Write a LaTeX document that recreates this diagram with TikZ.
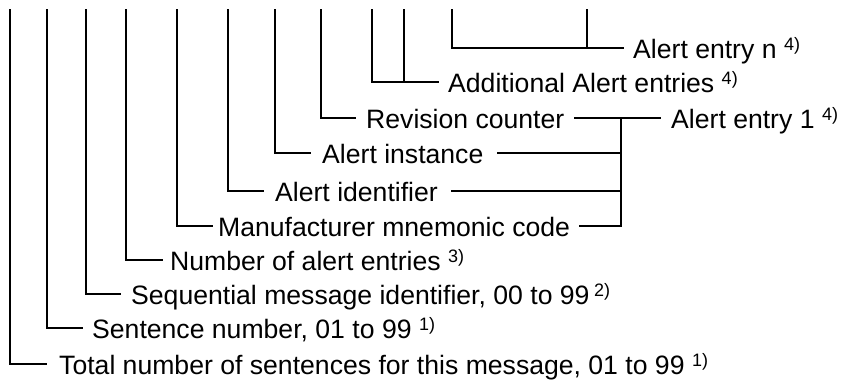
\documentclass[tikz,border=0pt]{standalone}
\usepackage{fontspec}
\setmainfont{Liberation Sans}
\newcommand\supnote[1]{\raisebox{8pt}{\fontsize{18}{18}\selectfont #1}}
\begin{document}
\begin{tikzpicture}[x=1pt,y=-1pt,
  conn/.style={line width=1.7pt, line cap=rect},
  lbl/.style={anchor=base west, inner sep=0pt, font=\fontsize{26.6}{30}\selectfont}]
\useasboundingbox (0,0) rectangle (842,383);
% vertical tops
\coordinate (v1) at (10,10);
\coordinate (v2) at (47,10);
\coordinate (v3) at (86,10);
\coordinate (v4) at (126,10);
\coordinate (v5) at (177,10);
\coordinate (v6) at (228,10);
\coordinate (v7) at (275,10);
\coordinate (v8) at (321,10);
\coordinate (v9) at (372,10);
\coordinate (v10) at (404,10);
\coordinate (v11) at (452,10);
\coordinate (v12) at (587,10);
\coordinate (jtop) at (621,118);
% labels
\node[lbl] (total) at (59,374) {Total number of sentences for this message, 01 to 99 \supnote{1)}};
\node[lbl] (sentno) at (92,338) {Sentence number, 01 to 99 \supnote{1)}};
\node[lbl] (seqid) at (131,304) {Sequential message identifier, 00 to 99\,\supnote{2)}};
\node[lbl] (numalert) at (170,270) {Number of alert entries \supnote{3)}};
\node[lbl] (mfr) at (218,236) {Manufacturer mnemonic code};
\node[lbl] (alertid) at (275,201) {Alert identifier};
\node[lbl] (inst) at (322,163) {Alert instance};
\node[lbl] (rev) at (366,128) {Revision counter};
\node[lbl] (addl) at (448,92) {Additional Alert entries \supnote{4)}};
\node[lbl] (entryn) at (633,58) {Alert entry n \supnote{4)}};
\node[lbl] (entry1) at (671,128) {Alert entry 1 \supnote{4)}};
% left connectors
\draw[conn] (v1) |- ([shift={(-13pt,10pt)}]total.base west);
\draw[conn] (v2) |- ([shift={(-10pt,10pt)}]sentno.base west);
\draw[conn] (v3) |- ([shift={(-11pt,10pt)}]seqid.base west);
\draw[conn] (v4) |- ([shift={(-8pt,10pt)}]numalert.base west);
\draw[conn] (v5) |- ([shift={(-6pt,10pt)}]mfr.base west);
\draw[conn] (v6) |- ([shift={(-12pt,10pt)}]alertid.base west);
\draw[conn] (v7) |- ([shift={(-12pt,10pt)}]inst.base west);
\draw[conn] (v8) |- ([shift={(-11pt,10pt)}]rev.base west);
\coordinate (ae) at ([shift={(-10pt,10pt)}]addl.base west);
\draw[conn] (v9) |- (ae);
\draw[conn] (v10) -- (v10 |- ae);
\coordinate (ne) at ([shift={(-10pt,10pt)}]entryn.base west);
\draw[conn] (v11) |- (ne);
\draw[conn] (v12) -- (v12 |- ne);
% right connectors
\draw[conn] ([shift={(10pt,10pt)}]rev.base east) -- ([shift={(-11pt,10pt)}]entry1.base west);
\draw[conn] ([shift={(10pt,10pt)}]mfr.base east) -| (jtop);
\coordinate (ie) at ([shift={(14pt,10pt)}]inst.base east);
\draw[conn] (ie) -- (ie -| jtop);
\coordinate (ide) at ([shift={(14pt,10pt)}]alertid.base east);
\draw[conn] (ide) -- (ide -| jtop);
\end{tikzpicture}
\end{document}
